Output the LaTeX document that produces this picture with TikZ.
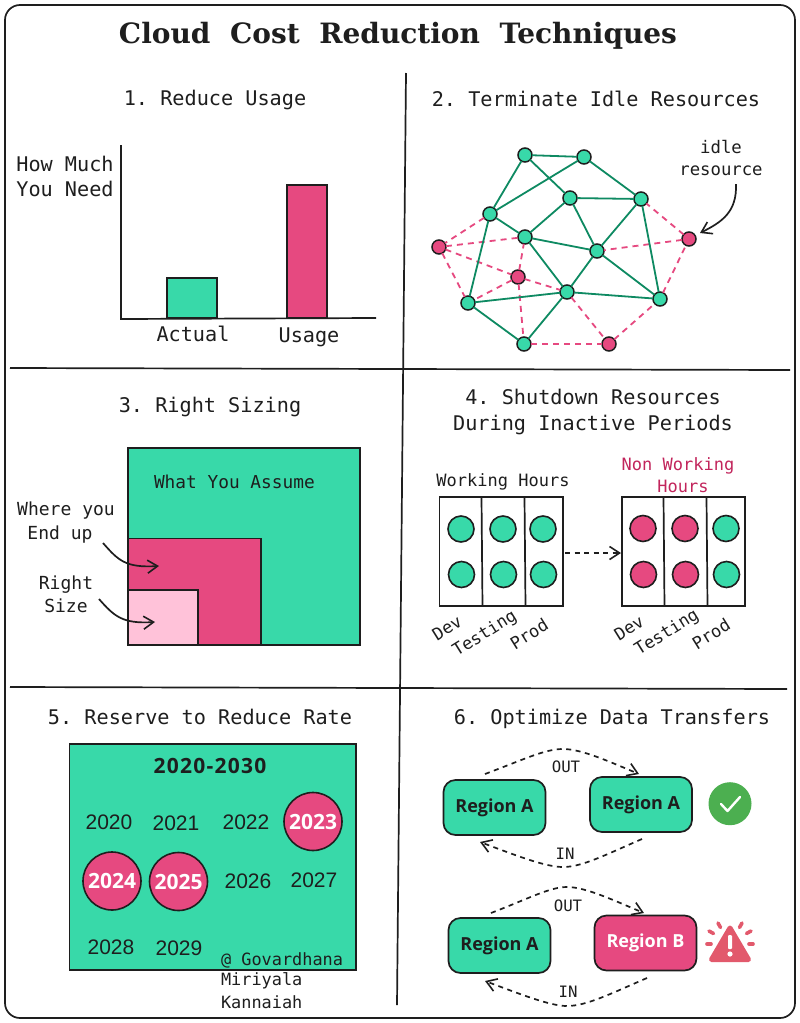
\documentclass[tikz,border=0pt]{standalone}
\usepackage{fontspec}
\setmainfont{DejaVu Sans Mono}
\newfontfamily\titlefont{DejaVu Serif}
\newfontfamily\regionfont{Open Sans}
\newfontfamily\rangefont[LetterSpace=6]{Open Sans}
\newfontfamily\yearfont{Liberation Sans}
\usetikzlibrary{arrows.meta,shapes.geometric}
\definecolor{ink}{HTML}{1E1E1E}
\definecolor{mint}{HTML}{38D9A9}
\definecolor{rose}{HTML}{E64980}
\definecolor{pale}{HTML}{FFC2D9}
\definecolor{edgegreen}{HTML}{0E8A62}
\definecolor{wine}{HTML}{C2255C}
\newcommand{\fs}[1]{\fontsize{#1pt}{#1pt}\selectfont}
\frenchspacing
\tikzset{
  x=1pt,y=-1pt,
  txt/.style={inner sep=0pt,outer sep=0pt,text=ink,font=\fs{#1},align=center},
  txt/.default=20.2,
  rule/.style={draw=ink,line width=1.7pt},
  box/.style={draw=ink,line width=1.7pt},
  gnode/.style={circle,draw=ink,line width=1.5pt,fill=mint,minimum size=14pt,inner sep=0pt,outer sep=0pt},
  rnode/.style={circle,draw=ink,line width=1.5pt,fill=rose,minimum size=14pt,inner sep=0pt,outer sep=0pt},
  gedge/.style={draw=edgegreen,line width=1.8pt},
  redge/.style={draw=rose,line width=1.8pt,dash pattern=on 6pt off 5pt},
  gdot/.style={circle,draw=ink,line width=1.6pt,fill=mint,minimum size=26pt,inner sep=0pt},
  rdot/.style={circle,draw=ink,line width=1.6pt,fill=rose,minimum size=26pt,inner sep=0pt},
  barb/.style={-{Straight Barb[length=10pt,width=13pt,line width=1.6pt]},draw=ink,line width=1.7pt},
  dbarb/.style={barb,dash pattern=on 5pt off 4.5pt},
  region/.style={draw=ink,line width=1.7pt,rounded corners=12pt,minimum width=102pt,minimum height=55pt,inner sep=0pt,font=\regionfont\bfseries\fs{18},text=ink},
  year/.style={inner sep=0pt,font=\yearfont\fs{21},text=ink},
  byear/.style={circle,draw=ink,line width=1.6pt,fill=rose,minimum size=58pt,inner sep=0pt,text=white,font=\regionfont\bfseries\fs{21}},
}
\begin{document}
\begin{tikzpicture}
\useasboundingbox (0,0) rectangle (800,1023);
\fill[white] (0,0) rectangle (800,1023);
\draw[rule,rounded corners=15pt] (5,5) rectangle (795,1018);
\node[inner sep=0pt,text=ink,font=\titlefont\bfseries\fs{28}] (title) at (398,36) {Cloud\hspace{0.7em}Cost\hspace{0.7em}Reduction\hspace{0.7em}Techniques};

% dividers
\coordinate (vt) at (406,73); \coordinate (vb) at (397,1005);
\coordinate (h1a) at (10,368); \coordinate (h1b) at (790,370);
\coordinate (h2a) at (10,687); \coordinate (h2b) at (787,689);
\draw[rule] (vt) -- (vb);
\draw[rule] (h1a) -- (h1b);
\draw[rule] (h2a) -- (h2b);

% headings
\node[txt] (s1) at (215,100) {1. Reduce Usage};
\node[txt] (s2) at (596,99) {2. Terminate Idle Resources};
\node[txt] (s3) at (210,407) {3. Right Sizing};
\node[txt] (s4) at (593,412) {4. Shutdown Resources\\[5pt]During Inactive Periods};
\node[txt] (s5) at (200,717) {5. Reserve to Reduce Rate};
\node[txt] (s6) at (612,719) {6. Optimize Data Transfers};

% section 1
\fill[draw=ink,line width=1.7pt,fill=mint] (167,318) rectangle (217,278);
\fill[draw=ink,line width=1.7pt,fill=rose] (287,318) rectangle (327,185);
\coordinate (axt) at (121,145); \coordinate (axo) at (121,319); \coordinate (axr) at (376,318);
\draw[rule] (axt) -- (axo) -- (axr);
\node[txt] (need) at (65,176.5) {How Much\\[4.5pt]You Need};
\node[txt] (act) at (193,334) {Actual};
\node[txt] (usg) at (309,337) {Usage};

% section 2
\node[gnode] (a) at (525,155) {};
\node[gnode] (b) at (584,157) {};
\node[gnode] (c) at (570,198) {};
\node[gnode] (d) at (641,199) {};
\node[gnode] (e) at (490,214) {};
\node[gnode] (f) at (525,237) {};
\node[gnode] (g) at (597,251) {};
\node[rnode] (h) at (689,239) {};
\node[rnode] (i) at (439,247) {};
\node[rnode] (j) at (518,277) {};
\node[gnode] (k) at (567,292) {};
\node[gnode] (l) at (660,299) {};
\node[gnode] (m) at (468,303) {};
\node[gnode] (n) at (524,344) {};
\node[rnode] (o) at (609,344) {};
\foreach \p/\q in {e/i,i/f,i/m,i/j,j/m,j/f,j/k,j/n,n/o,k/o,o/l,l/h,h/g,h/d}
  \draw[redge] (\p) -- (\q);
\foreach \p/\q in {a/b,a/c,a/e,b/e,b/d,c/d,c/f,c/g,d/g,d/l,e/f,e/m,f/g,f/k,g/k,g/l,k/l,k/m,k/n,m/n}
  \draw[gedge] (\p) -- (\q);
\node[txt=17.3] (idle) at (721,158) {idle\\[4pt]resource};
\coordinate (idlefrom) at (736,184);
\coordinate (idleto) at (700,233);
\draw[barb] (idlefrom) .. controls (737,212) and (722,222) .. (idleto);

% section 3
\draw[box,fill=mint] (128,448) rectangle (360,645);
\draw[box,fill=rose] (128,538.5) rectangle (261,645);
\draw[box,fill=pale] (128,590) rectangle (198,645);
\node[txt=17.8,anchor=west] (assume) at (154,482) {What You Assume};
\node[txt=18] (where) at (66,511) {Where you};
\node[txt=18] (endup) at (60,534.5) {End up};
\node[txt=18] (right) at (66,585) {Right};
\node[txt=18] (size) at (66,606) {Size};
\coordinate (w1) at (103,543); \coordinate (w2) at (159,566);
\coordinate (r1) at (99,599); \coordinate (r2) at (155,622);
\draw[barb] (w1) .. controls (118,560) and (125,568) .. (w2);
\draw[barb] (r1) .. controls (114,616) and (122,624) .. (r2);

% section 4
\node[txt=17] (wh) at (503,482) {Working Hours};
\node[txt=17,text=wine] (nw) at (678,466) {Non Working};
\node[txt=17,text=wine] (nh) at (683,486) {Hours};
\draw[box] (439.5,497) rectangle (563,606);
\draw[box] (622,497) rectangle (745,606);
\draw[box] (481.5,497) -- (482.5,606);
\draw[box] (524.5,497) -- (525.5,606);
\draw[box] (663.5,497) -- (664.5,606);
\draw[box] (706.5,497) -- (707.5,606);
\node[gdot] (w11) at (461,529) {};
\node[gdot] (w12) at (503,529) {};
\node[gdot] (w13) at (543,529) {};
\node[gdot] (w21) at (461.5,574.5) {};
\node[gdot] (w22) at (503.5,574.5) {};
\node[gdot] (w23) at (543.5,574.5) {};
\node[rdot] (n11) at (643,528.5) {};
\node[rdot] (n12) at (685,528.5) {};
\node[gdot] (n13) at (726,528.5) {};
\node[rdot] (n21) at (643.5,574.5) {};
\node[rdot] (n22) at (685.5,574.5) {};
\node[gdot] (n23) at (726.5,574.5) {};
\coordinate (sa) at (565,553); \coordinate (sb) at (621,553);
\draw[dbarb] (sa) -- (sb);
\node[txt=17,rotate=32] (d1) at (447,628) {Dev};
\node[txt=17,rotate=32] (t1) at (485,634) {Testing};
\node[txt=17,rotate=32] (p1) at (529,634) {Prod};
\node[txt=17,rotate=32] (d2) at (629,628) {Dev};
\node[txt=17,rotate=32] (t2) at (667,633) {Testing};
\node[txt=17,rotate=32] (p2) at (711,634) {Prod};

% section 5
\draw[box,fill=mint] (69.5,744) rectangle (356,970);
\node[inner sep=0pt,font=\rangefont\bfseries\fs{21},text=ink] (range) at (210,766) {2020-2030};
\node[year] (y20) at (109,822) {2020};
\node[year] (y21) at (176,823) {2021};
\node[year] (y22) at (246,822) {2022};
\node[byear] (y23) at (313,821.5) {\raisebox{-1pt}{2023}};
\node[byear] (y24) at (112,881) {\raisebox{-1pt}{2024}};
\node[byear] (y25) at (178.5,881.5) {\raisebox{-1pt}{2025}};
\node[year] (y26) at (248,881) {2026};
\node[year] (y27) at (314,880) {2027};
\node[year] (y28) at (111,947) {2028};
\node[year] (y29) at (179,948) {2029};
\node[txt=16.9,anchor=west] (cr1) at (221,960) {@ Govardhana};
\node[txt=16.9,anchor=west] (cr2) at (221,981) {Miriyala};
\node[txt=16.9,anchor=west] (cr3) at (221,1002) {Kannaiah};

% section 6
\node[region,fill=mint] (ra1) at (494.5,807.5) {\raisebox{-1.5pt}{Region A}};
\node[region,fill=mint] (ra2) at (641,804.5) {\raisebox{-1.5pt}{Region A}};
\node[region,fill=mint] (ra3) at (499.5,945.5) {\raisebox{-1.5pt}{Region A}};
\node[region,fill=rose,text=white] (rb) at (645.5,943) {\raisebox{-1.5pt}{Region B}};
\coordinate (o1a) at (485,774); \coordinate (o1b) at (639,774);
\coordinate (i1a) at (642,839); \coordinate (i1b) at (480,842);
\coordinate (o2a) at (491,913); \coordinate (o2b) at (644,913);
\coordinate (i2a) at (647,978); \coordinate (i2b) at (485,981);
\draw[dbarb] (o1a) .. controls (525,759) and (545,749) .. (563,749) .. controls (582,749) and (610,762) .. (o1b);
\draw[dbarb] (i1a) .. controls (605,855) and (582,867) .. (563,867) .. controls (545,867) and (515,855) .. (i1b);
\draw[dbarb] (o2a) .. controls (530,898) and (550,887) .. (567,887) .. controls (586,887) and (615,901) .. (o2b);
\draw[dbarb] (i2a) .. controls (610,994) and (586,1006) .. (567,1006) .. controls (550,1006) and (520,994) .. (i2b);
\node[txt=15.7] (out1) at (566,767) {OUT};
\node[txt=15.7] (in1) at (565,854) {IN};
\node[txt=15.7] (out2) at (568,906) {OUT};
\node[txt=15.7] (in2) at (568,992) {IN};

% check badge
\fill[fill={rgb,255:red,76;green,175;blue,80}] (730,803.7) circle (21.5);
\draw[white,line width=2.4pt,line cap=round,line join=round] (721,804) -- (727.5,811) -- (740,797);
% warning badge
\definecolor{warn}{HTML}{E2596C}
\fill[warn,draw=warn,line width=5pt,line join=round] (730,928) -- (748.5,959.5) -- (711.5,959.5) -- cycle;
\fill[white,rounded corners=1pt] (728,935) rectangle (732,949);
\fill[white] (730,954) circle (2.6);
\foreach \xa/\ya/\xb/\yb in {707/944/711/944,709/931/713.5/933.5,718/923/720.5/927.5,742/923/739.5/927.5,751/931/746.5/933.5,753/944/749/944}
  \draw[warn,line width=3.6pt,line cap=round] (\xa,\ya) -- (\xb,\yb);
\end{tikzpicture}
\end{document}
